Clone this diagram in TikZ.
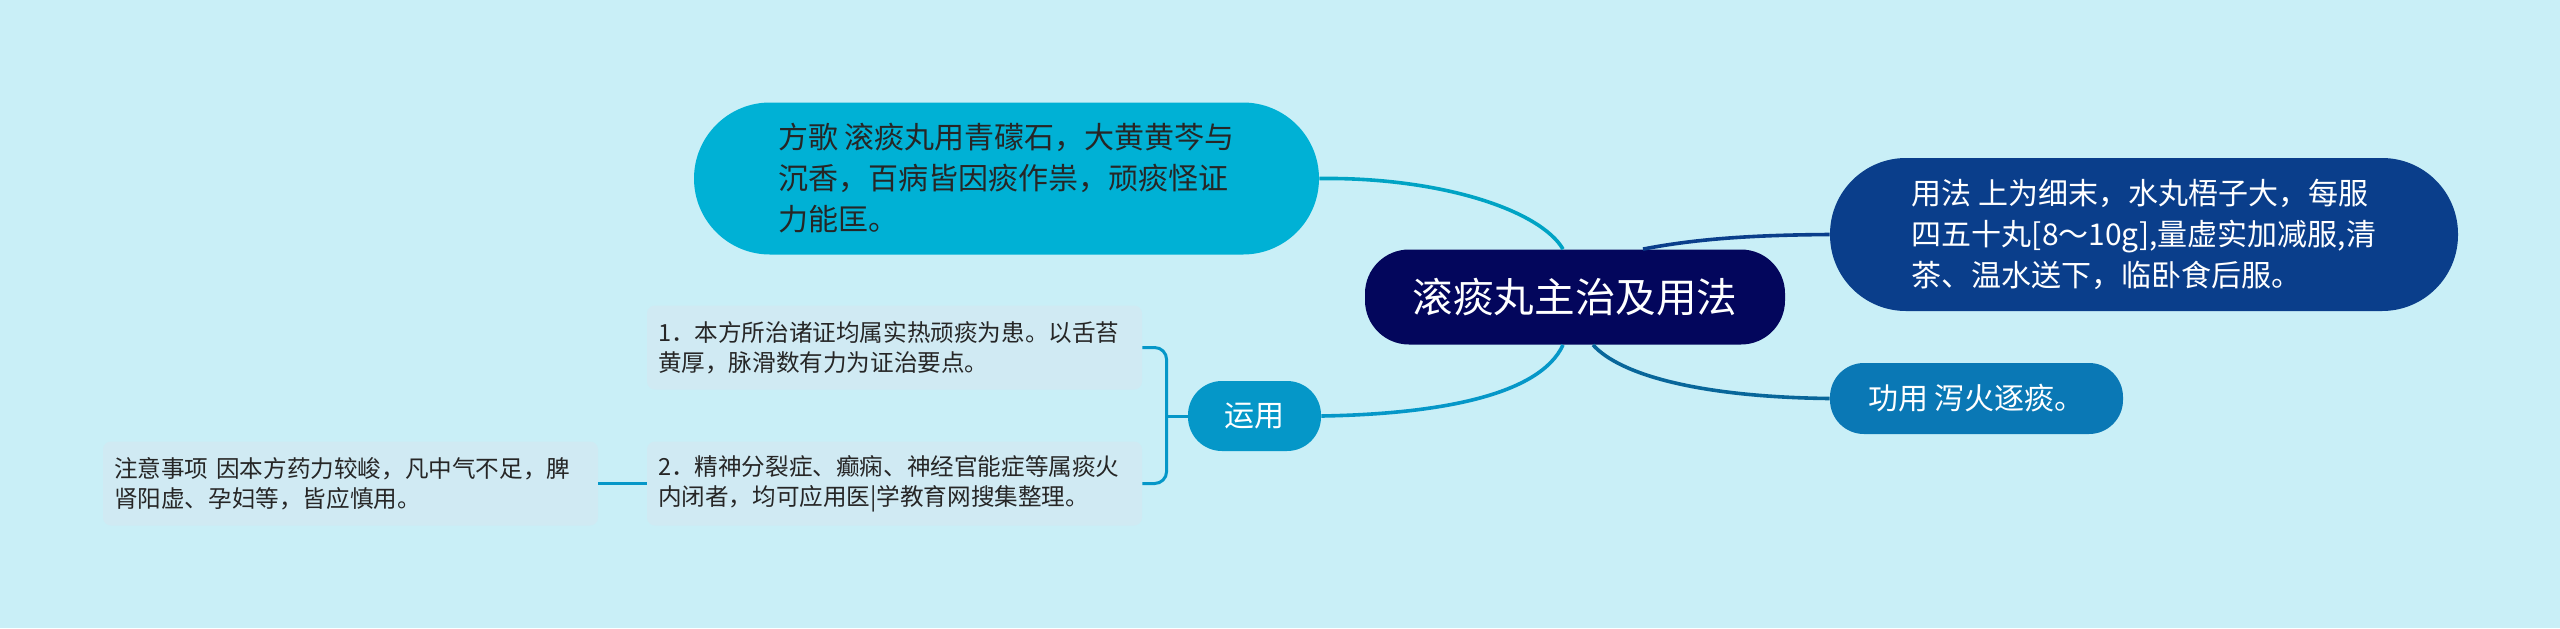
\documentclass[tikz,border=0pt]{standalone}
\usepackage{fontspec}
\setmainfont{Noto Sans CJK SC}
\usepackage{tikz}
\usetikzlibrary{calc}

\definecolor{bgc}{HTML}{C9EFF7}
\definecolor{rootc}{HTML}{03065C}
\definecolor{fangc}{HTML}{00B1D5}
\definecolor{yfc}{HTML}{0A3E8B}
\definecolor{gongc}{HTML}{0A78B5}
\definecolor{yunc}{HTML}{0597C8}
\definecolor{itemc}{HTML}{D0EAF3}
\definecolor{inkc}{HTML}{262626}

\tikzset{
  topic/.style={align=left,inner sep=0pt,text=white,font=\fontsize{15}{20.5}\selectfont},
  itembox/.style={fill=itemc,rounded corners=4pt,align=left,text width=236.5pt,inner xsep=5.5pt,
    inner ysep=0pt,minimum height=42pt,text=inkc,font=\fontsize{11.8}{15}\selectfont},
  link/.style={line width=1.8pt}
}

\begin{document}
\begin{tikzpicture}[x=0.5pt,y=-0.5pt]
\fill [bgc] (0,0) rectangle (2560,628);
\useasboundingbox (0,0) rectangle (2560,628);

\node [fill=rootc,text=white,rounded corners=22pt,minimum width=210pt,minimum height=47.5pt,
  font=\fontsize{20.3}{24}\selectfont] (root) at (1575,297) {滚痰丸主治及用法};

\node [topic,fill=fangc,text=inkc,minimum width=312.5pt,minimum height=76pt,rounded corners=38pt]
  (fang) at (1006.5,178.5) {方歌 滚痰丸用青礞石，大黄黄芩与\\沉香，百病皆因痰作祟，顽痰怪证\\力能匡。};
\node [topic,fill=yfc,minimum width=314pt,minimum height=76.5pt,rounded corners=38pt]
  (yongfa) at (2144,234.5) {用法 上为细末，水丸梧子大，每服\\四五十丸[8～10g],量虚实加减服,清\\茶、温水送下，临卧食后服。};
\node [topic,fill=gongc,minimum width=146.5pt,minimum height=35.5pt,rounded corners=17pt]
  (gong) at (1976.5,398.5) {功用 泻火逐痰。};
\node [topic,fill=yunc,minimum width=66.5pt,minimum height=35pt,rounded corners=17pt]
  (yun) at (1254.5,416) {运用};

\node [itembox] (item1) at (894.5,347.5) {1．本方所治诸证均属实热顽痰为患。以舌苔\\黄厚，脉滑数有力为证治要点。};
\node [itembox] (item2) at (894.5,483.5) {2．精神分裂症、癫痫、神经官能症等属痰火\\内闭者，均可应用医|学教育网搜集整理。};
\node [itembox] (note) at (350.5,483.5) {注意事项 因本方药力较峻，凡中气不足，脾\\肾阳虚、孕妇等，皆应慎用。};

\draw [link,draw=fangc!92!black] (fang.east) .. controls (1440,177) and (1540,210) .. ($(root.north)+(-12,0)$);
\draw [link,draw=yfc] ($(root.north)+(68,0)$) .. controls (1700,238) and (1760,235) .. (yongfa.west);
\draw [link,draw=gongc!85!black] ($(root.south)+(18,0)$) .. controls (1620,375) and (1700,397) .. (gong.west);
\draw [link,draw=yunc] ($(root.south)+(-12,0)$) .. controls (1540,395) and (1440,414) .. (yun.east);

\coordinate (fork) at ($(yun.west)+(-21,0)$);
\draw [link,draw=yunc,line width=1.5pt] (yun.west) -- (fork);
\draw [link,draw=yunc,line width=1.5pt,rounded corners=6pt] (item1.east) -| (fork) |- (item2.east);
\draw [link,draw=yunc,line width=1.5pt] (item2.west) -- (note.east);
\end{tikzpicture}
\end{document}
